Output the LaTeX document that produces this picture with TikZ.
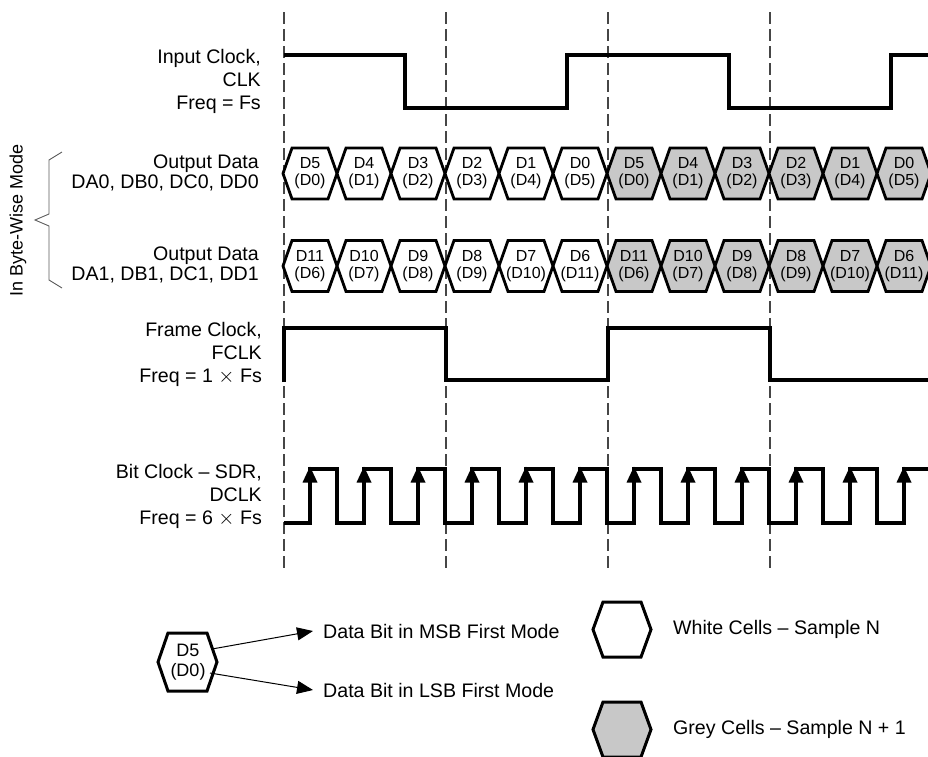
\documentclass[tikz,border=0pt]{standalone}
\usepackage{fontspec}
\setmainfont{Liberation Sans}
\usetikzlibrary{arrows.meta}
\definecolor{cellgrey}{RGB}{200,200,200}
\definecolor{dashgrey}{RGB}{70,70,70}
\definecolor{bracegrey}{RGB}{90,90,90}
\newcommand{\lblfont}{\fontsize{19.6}{23}\selectfont}
\newcommand{\datafont}{\fontsize{19.6}{20}\selectfont}
\newcommand{\cellfont}{\fontsize{16}{17}\selectfont}
\begin{document}
\begin{tikzpicture}[x=1pt,y=-1pt,
  wave/.style={line width=3.6pt, line join=miter, line cap=butt},
  hexcell/.style={draw=black, line width=2.8pt, line join=miter, fill=#1},
  lhex/.style={draw=black, line width=3pt, line join=miter, fill=#1},
  dashline/.style={draw=dashgrey, line width=1.3pt, dash pattern=on 12pt off 5pt},
  lbl/.style={align=right, anchor=east, font=\lblfont, inner sep=0pt},
  dlbl/.style={align=right, anchor=east, font=\datafont, inner sep=0pt},
  celltxt/.style={align=center, font=\cellfont, inner sep=0pt},
  legtxt/.style={anchor=west, font=\lblfont, inner sep=0pt},
  legarrow/.style={line width=1pt, -{Triangle[length=16pt, width=13pt]}},
]
\useasboundingbox (0,0) rectangle (928,756);

% dashed reference lines
\foreach \x in {284,446,608,770}
  \draw[dashline] (\x,12) -- (\x,568);

% labels
\node[lbl] (lclk) at (261,81) {Input Clock,\\CLK\\Freq = Fs};
\node[dlbl] (ld0) at (259,172.5) {Output Data\\DA0, DB0, DC0, DD0};
\node[dlbl] (ld1) at (259,265) {Output Data\\DA1, DB1, DC1, DD1};
\node[lbl] (lfclk) at (262,354) {Frame Clock,\\FCLK\\Freq = 1 $\times$ Fs};
\node[lbl] (ldclk) at (262,496) {Bit Clock -- SDR,\\DCLK\\Freq = 6 $\times$ Fs};
\node[rotate=90, font=\fontsize{18}{20}\selectfont, inner sep=0pt] (lbw) at (18,220) {In Byte-Wise Mode};
\draw[bracegrey, line width=0.9pt] (62,152) -- (49,160) -- (49,214) -- (35,220) -- (49,226) -- (49,280) -- (62,288);

% input clock
\draw[wave] (284,55) -| (405,108) -| (567,55) -| (729,108) -| (891,55) -- (932,55);

% data cells
\foreach \i/\ta/\tb/\sa/\sb in {0/D5/D0/D11/D6, 1/D4/D1/D10/D7, 2/D3/D2/D9/D8, 3/D2/D3/D8/D9, 4/D1/D4/D7/D10, 5/D0/D5/D6/D11} {
  \foreach \j/\fc in {0/white, 6/cellgrey} {
    \pgfmathtruncatemacro\k{\i+\j}
    \pgfmathsetmacro\xa{283+54*\k}
    \draw[hexcell=\fc] (\xa,173.5) -- ++(9,-25.5) -- ++(36,0) -- ++(9,25.5) -- ++(-9,25.5) -- ++(-36,0) -- cycle;
    \node[celltxt] (ca\k) at (\xa+27,173.5) {\ta\\(\tb)};
    \draw[hexcell=\fc] (\xa,266) -- ++(9,-25.5) -- ++(36,0) -- ++(9,25.5) -- ++(-9,25.5) -- ++(-36,0) -- cycle;
    \node[celltxt] (cb\k) at (\xa+27,266) {\sa\\(\sb)};
  }
}

% frame clock
\draw[wave] (284,382) |- (446,328) |- (608,380) |- (770,328) |- (932,380);

% bit clock
\draw[wave] (284,523) \foreach \k in {0,...,11} { -| ({310+54*\k},469) -| ({337+54*\k},523) };
\foreach \k in {0,...,11}
  \fill ({310+54*\k},466.5) -- ++(-7.5,16) -- ++(15,0) -- cycle;

% legend
\draw[lhex=white] (158,662) -- ++(10,-29) -- ++(39,0) -- ++(10,29) -- ++(-10,29) -- ++(-39,0) -- cycle;
\node[align=center, font=\fontsize{18}{20}\selectfont, inner sep=0pt] (lg) at (188,662) {D5\\(D0)};
\coordinate (ms) at (212,649);
\coordinate (ls) at (210,673);
\node[legtxt, inner xsep=10pt] (msb) at (313,631) {Data Bit in MSB First Mode};
\node[legtxt, inner xsep=10pt] (lsb) at (313,690) {Data Bit in LSB First Mode};
\draw[legarrow] (ms) -- (msb.west);
\draw[legarrow] (ls) -- (lsb.west);

\draw[lhex=white] (593,629.5) -- ++(10,-27.5) -- ++(38,0) -- ++(10,27.5) -- ++(-10,27.5) -- ++(-38,0) -- cycle;
\draw[lhex=cellgrey] (593,729.5) -- ++(10,-27.5) -- ++(38,0) -- ++(10,27.5) -- ++(-10,27.5) -- ++(-38,0) -- cycle;
\node[legtxt] (lw) at (673,629) {White Cells -- Sample N};
\node[legtxt] (lgr) at (673,729) {Grey Cells -- Sample N + 1};
\end{tikzpicture}
\end{document}
